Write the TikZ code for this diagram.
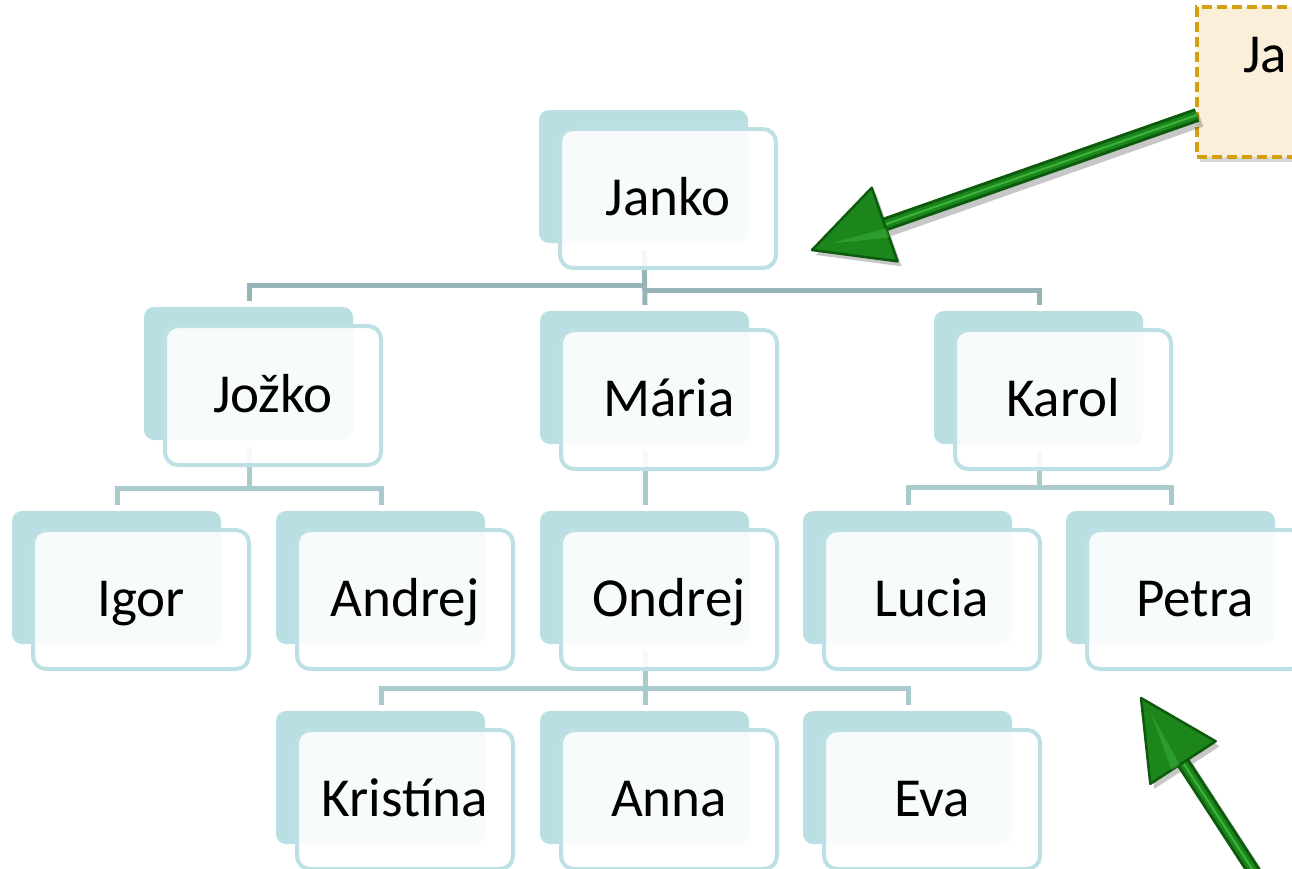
\documentclass[tikz,border=0pt]{standalone}
\usepackage{fontspec}
\setmainfont{Carlito}
\usetikzlibrary{calc,shadows,backgrounds}
\definecolor{backteal}{HTML}{BADFE3}
\definecolor{frontline}{HTML}{BCE0E4}
\definecolor{conn}{HTML}{97B4B8}
\definecolor{connlight}{HTML}{A9CBCE}
\definecolor{parch}{HTML}{FCEFDA}
\definecolor{gold}{HTML}{D4A010}
\definecolor{agreen}{HTML}{1C861C}
\definecolor{adark}{HTML}{0C5A0C}
\definecolor{alight}{HTML}{3CB43C}
\tikzset{
  backbox/.style={fill=backteal, rounded corners=10pt},
  frontbox/.style={draw=frontline, line width=4pt, fill=white, fill opacity=0.9,
    draw opacity=1, text opacity=1, rounded corners=13pt, minimum width=216pt,
    minimum height=139pt, inner sep=0pt, outer sep=0pt, text height=40pt, text depth=6pt,
    font=\fontsize{55}{60}\selectfont, anchor=north west},
  connector/.style={draw=conn, line width=5pt},
  connectorlight/.style={draw=connlight, line width=5pt},
  notebox/.style={draw=gold, fill=parch, line width=4pt, dash pattern=on 10pt off 5pt,
    minimum width=150pt, minimum height=150pt, anchor=north west, inner sep=0pt, outer sep=0pt,
    drop shadow={shadow xshift=3pt, shadow yshift=-5pt, opacity=0.3}},
  notetext/.style={font=\fontsize{55}{60}\selectfont, anchor=base west, inner sep=0pt},
}
\newcommand\famnode[4]{%
  \node[frontbox] (#1) at (#2+21,#3+19) {#4};
  \begin{scope}[on background layer]
    \fill[backbox] (#2,#3) rectangle ++(209,133);
  \end{scope}
  \coordinate (#1-out) at ([xshift=-24pt,yshift=18pt]#1.south);
  \coordinate (#1-in) at ([xshift=-24pt,yshift=25pt]#1.north);
}
\newcommand\greenarrow[2]{%
  \coordinate (gb) at ($(#2)!77pt!(#1)$);
  \coordinate (gc1) at ($(gb)!39pt!90:(#2)$);
  \coordinate (gc2) at ($(gb)!39pt!-90:(#2)$);
  \draw[line width=14pt, black, opacity=0.22] ([shift={(4pt,-5pt)}]#1) -- ([shift={(4pt,-5pt)}]gb);
  \fill[black, opacity=0.22] ([shift={(4pt,-5pt)}]#2) -- ([shift={(4pt,-5pt)}]gc1) -- ([shift={(4pt,-5pt)}]gc2) -- cycle;
  \draw[line width=14pt, adark] (#1) -- (gb);
  \draw[line width=8pt, agreen] (#1) -- (gb);
  \draw[line width=2pt, alight] (#1) -- (gb);
  \fill[agreen, draw=adark, line width=2.5pt, line join=round] (#2) -- (gc1) -- (gc2) -- cycle;
  \fill[alight, opacity=0.5] ($(#2)!0.25!(gb)$) -- ($(gb)!0.35!(gc1)$) -- ($(gb)!0.1!(gc1)$) -- cycle;
}
\begin{document}
\begin{tikzpicture}[x=1pt,y=-1pt]
\clip (0,0) rectangle (1292,868);
\begin{scope}[on background layer]
  \fill[white] (0,0) rectangle (1292,868);
\end{scope}
% nodes
\famnode{Janko}{539}{110}{Janko}
\famnode{Jozko}{144}{307}{Jožko}
\famnode{Maria}{540}{311}{Mária}
\famnode{Karol}{934}{311}{Karol}
\famnode{Igor}{12}{511}{Igor}
\famnode{Andrej}{276}{511}{Andrej}
\famnode{Ondrej}{540}{511}{Ondrej}
\famnode{Lucia}{803}{511}{Lucia}
\famnode{Petra}{1066}{511}{Petra}
\famnode{Kristina}{276}{711}{Kristína}
\famnode{Anna}{540}{711}{Anna}
\famnode{Eva}{803}{711}{Eva}
% bus coordinates
\coordinate (busA) at (0,285);
\coordinate (busB) at (0,290);
\coordinate (busC) at (0,488);
\coordinate (busD) at (0,487);
\coordinate (busE) at (0,688);
\begin{scope}[on background layer]
  \draw[connector] (Janko-out) -- (Janko-out |- busA) -| (Jozko-in);
  \draw[connector] (Janko-out) -- (Maria-in);
  \draw[connector] (Janko-out |- busB) -| (Karol-in);
  \draw[connectorlight] (Jozko-out) -- (Jozko-out |- busC) -| (Igor-in);
  \draw[connectorlight] (Jozko-out |- busC) -| (Andrej-in);
  \draw[connectorlight] (Maria-out) -- (Ondrej-in);
  \draw[connectorlight] (Karol-out) -- (Karol-out |- busD) -| (Lucia-in);
  \draw[connectorlight] (Karol-out |- busD) -| (Petra-in);
  \draw[connectorlight] (Ondrej-out) -- (Anna-in);
  \draw[connectorlight] (Ondrej-out |- busE) -| (Kristina-in);
  \draw[connectorlight] (Ondrej-out |- busE) -| (Eva-in);
\end{scope}
% callout
\node[notebox] (note) at (1197,7) {};
\node[notetext] (notetxt) at (1243,72) {Ja};
% arrows
\coordinate (a1s) at ([yshift=-33pt]note.west);
\coordinate (a1t) at ([xshift=36pt,yshift=18pt]Janko.south east);
\greenarrow{a1s}{a1t}
\coordinate (a2s) at (1262,884);
\coordinate (a2t) at ([xshift=54pt,yshift=-29pt]Petra.south west);
\greenarrow{a2s}{a2t}
\end{tikzpicture}
\end{document}
